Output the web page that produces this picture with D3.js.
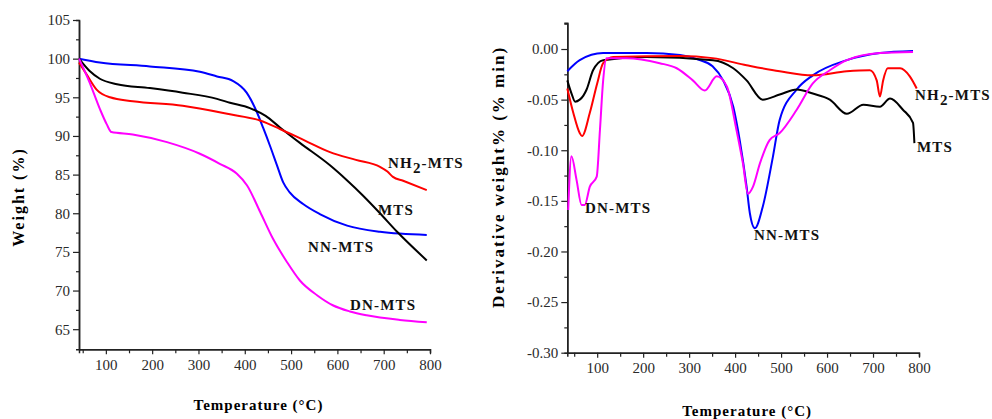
<!DOCTYPE html>
<html>
<head>
<meta charset="utf-8">
<script src="https://cdn.jsdelivr.net/npm/d3@7"></script>
<style>
  body { margin: 0; background: #fff; }
  text { font-family: 'Liberation Serif', 'Times New Roman', serif; }
</style>
</head>
<body>
<svg id="chart"></svg>
<script>
const width = 992;
const height = 419;

// TGA curves, [temperature (C), weight (%)]
const tgaMTS = [[42, 100], [65, 98.4], [87, 97.4], [124, 96.7], [195, 96.2], [266, 95.6], [340, 94.8],
  [368, 94.3], [411, 93.6], [445, 92.6], [476, 91.1], [519, 89.1], [584, 86.2], [620, 84.3],
  [655, 82.3], [692, 80.0], [729, 77.6], [793, 73.9]];
const tgaNH2 = [[42, 99.5], [58, 98.0], [80, 96.0], [109, 95.0], [158, 94.5], [266, 93.9], [368, 92.8],
  [433, 92.0], [476, 90.9], [530, 89.4], [584, 87.9], [640, 86.9], [692, 86.0], [708, 85.4],
  [720, 84.7], [742, 84.2], [793, 83.0]];
const tgaNN = [[42, 100], [87, 99.5], [195, 99.0], [303, 98.3], [340, 97.7], [375, 97.1], [404, 95.6],
  [426, 93.1], [440, 91.0], [454, 88.8], [469, 86.3], [483, 84.0], [497, 82.7], [526, 81.2],
  [562, 79.9], [621, 78.4], [692, 77.6], [793, 77.2]];
const tgaDN = [[42, 100], [65, 96.9], [87, 93.5], [102, 91.5], [112, 90.5], [158, 90.2], [232, 89.2],
  [303, 87.7], [346, 86.4], [383, 85.1], [405, 83.6], [433, 80.2], [461, 76.7], [491, 73.7],
  [519, 71.3], [556, 69.4], [590, 68.1], [627, 67.3], [663, 66.8], [735, 66.2], [793, 65.9]];

// DTG curves, [temperature (C), derivative weight (%/min)]
const dtgMTS = [[35, -0.031], [45, -0.045], [52, -0.052], [62, -0.050], [70, -0.046], [77, -0.040],
  [91, -0.021], [113, -0.011], [207, -0.008], [352, -0.011], [396, -0.019], [425, -0.031],
  [460, -0.050], [497, -0.045], [534, -0.040], [569, -0.044], [606, -0.050], [643, -0.064],
  [679, -0.055], [715, -0.057], [737, -0.049], [765, -0.060], [787, -0.073], [790, -0.093]];
const dtgNH2 = [[35, -0.039], [48, -0.063], [62, -0.083], [67, -0.086], [84, -0.063], [100, -0.034],
  [113, -0.014], [135, -0.008], [280, -0.007], [351, -0.009], [425, -0.016], [497, -0.022],
  [569, -0.026], [643, -0.022], [693, -0.021], [708, -0.031], [715, -0.047], [722, -0.031],
  [732, -0.019], [759, -0.019], [780, -0.027], [795, -0.039]];
const dtgNN = [[35, -0.022], [62, -0.011], [113, -0.004], [207, -0.004], [280, -0.006], [323, -0.011],
  [351, -0.017], [374, -0.031], [396, -0.057], [410, -0.090], [425, -0.136], [432, -0.162],
  [443, -0.177], [460, -0.156], [482, -0.107], [497, -0.070], [534, -0.040], [569, -0.026],
  [643, -0.011], [715, -0.004], [787, -0.002]];
const dtgDN = [[37, -0.159], [44, -0.106], [55, -0.129], [66, -0.154], [73, -0.154], [84, -0.136],
  [99, -0.126], [106, -0.080], [113, -0.031], [120, -0.009], [164, -0.009], [236, -0.014],
  [273, -0.019], [308, -0.031], [334, -0.041], [360, -0.027], [382, -0.037], [403, -0.080],
  [417, -0.113], [428, -0.143], [439, -0.136], [454, -0.113], [475, -0.090], [497, -0.083],
  [534, -0.060], [569, -0.034], [606, -0.021], [643, -0.011], [715, -0.004], [787, -0.003]];

// ticks
const tempTicks = [100, 200, 300, 400, 500, 600, 700, 800];
const tempMinor = [50, 150, 250, 350, 450, 550, 650, 750];
const weightTicks = [65, 70, 75, 80, 85, 90, 95, 100, 105];
const weightMinor = [67.5, 72.5, 77.5, 82.5, 87.5, 92.5, 97.5, 102.5];
const derivTicks = [0, -0.05, -0.10, -0.15, -0.20, -0.25, -0.30];
const derivMinor = [0.025, -0.025, -0.075, -0.125, -0.175, -0.225, -0.275];

const svg = d3.select('#chart').attr('width', width).attr('height', height);

const drawAxes = (g, x, y, yTicks, yMinor, yFmt, xTitleY, yTitle) => {
  const bottom = y.range()[0];
  const left = x.range()[0];
  const styleAxis = sel => {
    sel.select('.domain').attr('stroke', '#222').attr('stroke-width', 1.5);
    sel.selectAll('.tick line').attr('stroke', '#222').attr('stroke-width', 1.2);
    sel.selectAll('.tick text')
      .attr('fill', '#2a2a2a')
      .style('font-size', '15px')
      .style('font-family', "'Liberation Serif', serif");
  };
  g.append('g')
    .attr('transform', `translate(0,${bottom})`)
    .call(d3.axisBottom(x).tickValues(tempMinor).tickSize(4).tickFormat(''))
    .call(styleAxis);
  g.append('g')
    .attr('transform', `translate(0,${bottom})`)
    .call(d3.axisBottom(x).tickValues(tempTicks).tickSize(5).tickPadding(5).tickSizeOuter(0))
    .call(styleAxis);
  g.append('g')
    .attr('transform', `translate(${left},0)`)
    .call(d3.axisLeft(y).tickValues(yMinor).tickSize(3).tickFormat(''))
    .call(styleAxis);
  g.append('g')
    .attr('transform', `translate(${left},0)`)
    .call(d3.axisLeft(y).tickValues(yTicks).tickSize(6).tickPadding(3).tickSizeOuter(0).tickFormat(yFmt))
    .call(styleAxis);

  const xr = x.range();
  g.append('text')
    .attr('x', (xr[0] + xr[1]) / 2 + 4)
    .attr('y', xTitleY)
    .attr('text-anchor', 'middle')
    .style('font-size', '15px')
    .style('font-weight', 'bold')
    .style('letter-spacing', '1px')
    .text('Temperature (°C)');
  g.append('text')
    .attr('transform', `translate(${yTitle.x},${yTitle.cy}) rotate(-90)`)
    .attr('text-anchor', 'middle')
    .style('font-size', yTitle.size)
    .style('font-weight', 'bold')
    .style('letter-spacing', '2px')
    .text(yTitle.text);
};

const drawLine = (g, x, y, data, color) => {
  g.append('path')
    .datum(data)
    .attr('fill', 'none')
    .attr('stroke', color)
    .attr('stroke-width', 2)
    .attr('stroke-linejoin', 'round')
    .attr('d', d3.line()
      .x(d => x(d[0]))
      .y(d => y(d[1]))
      .curve(d3.curveMonotoneX));
};

const label = (g, x, y, name, sub) => {
  const t = g.append('text')
    .attr('x', x)
    .attr('y', y)
    .style('font-size', '15px')
    .style('font-weight', 'bold')
    .style('letter-spacing', '1.2px')
    .attr('fill', '#111');
  if (sub) {
    t.append('tspan').text('NH');
    t.append('tspan').attr('dy', 5).text('2');
    t.append('tspan').attr('dy', -5).text('-MTS');
  } else {
    t.text(name);
  }
};

// LEFT: TGA
const xL = d3.scaleLinear().domain([42, 800]).range([79, 430]);
const yL = d3.scaleLinear().domain([62.4, 105]).range([349.3, 20]);
const gL = svg.append('g');
drawAxes(gL, xL, yL, weightTicks, weightMinor, d3.format('d'), 410,
  { text: 'Weight (%)', cy: 197, x: 24, size: '16px' });
drawLine(gL, xL, yL, tgaNN, '#0000ff');
drawLine(gL, xL, yL, tgaMTS, '#000000');
drawLine(gL, xL, yL, tgaNH2, '#ff0000');
drawLine(gL, xL, yL, tgaDN, '#ff00ff');
label(gL, 388, 168, 'NH2-MTS', true);
label(gL, 378, 215, 'MTS');
label(gL, 308, 252, 'NN-MTS');
label(gL, 350, 310, 'DN-MTS');

// RIGHT: DTG
const xR = d3.scaleLinear().domain([35, 800]).range([567.3, 919]);
const yR = d3.scaleLinear().domain([-0.30, 0.026]).range([352.7, 22.7]);
const gR = svg.append('g');
drawAxes(gR, xR, yR, derivTicks, derivMinor, d => d.toFixed(2), 416,
  { text: 'Derivative weight% (% min)', cy: 177, x: 504, size: '17px' });
drawLine(gR, xR, yR, dtgNN, '#0000ff');
drawLine(gR, xR, yR, dtgMTS, '#000000');
drawLine(gR, xR, yR, dtgNH2, '#ff0000');
drawLine(gR, xR, yR, dtgDN, '#ff00ff');
label(gR, 915, 100, 'NH2-MTS', true);
label(gR, 917, 152, 'MTS');
label(gR, 585, 213, 'DN-MTS');
label(gR, 754, 240, 'NN-MTS');
</script>
</body>
</html>
